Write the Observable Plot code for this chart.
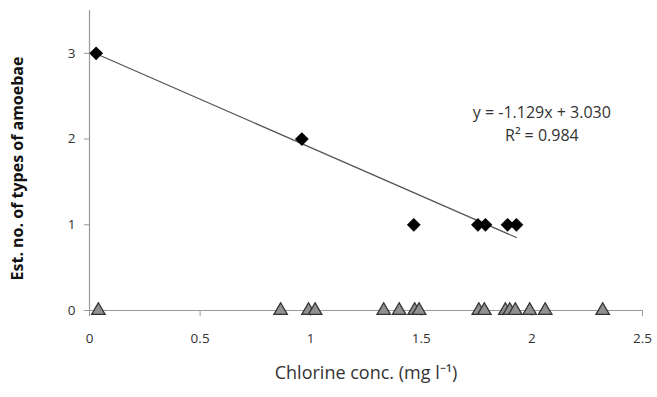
<!DOCTYPE html>
<html>
<head>
<meta charset="utf-8">
<script src="https://cdn.jsdelivr.net/npm/d3@7"></script>
<script src="https://cdn.jsdelivr.net/npm/@observablehq/plot@0.6"></script>
<style>
  html, body { margin: 0; padding: 0; background: #fff; }
  svg { font-family: "Open Sans", sans-serif; }
</style>
</head>
<body>
<div id="chart"></div>
<script>
// Detected amoebae (diamonds)
const presentX = [0.03, 0.96, 1.466, 1.756, 1.79, 1.89, 1.93];
const presentY = [3, 2, 1, 1, 1, 1, 1];
// Samples with no amoebae detected (triangles)
const absentX = [0.04, 0.864, 0.99, 1.02, 1.33, 1.40, 1.47, 1.49, 1.76, 1.785, 1.88, 1.90, 1.925, 1.99, 2.06, 2.32];
const absentY = absentX.map(() => 0);
// Trend line equation
const slope = -1.129;
const intercept = 3.030;
const r2 = 0.984;
const xTicks = [0, 0.5, 1, 1.5, 2, 2.5];
const xTickLabels = ["0", "0.5", "1", "1.5", "2", "2.5"];
const yTicks = [0, 1, 2, 3];

const present = presentX.map((x, i) => ({x, y: presentY[i]}));
const absent = absentX.map((x, i) => ({x, y: absentY[i]}));
const xMin = d3.min(presentX), xMax = d3.max(presentX);
const trend = [xMin, xMax].map(x => ({x, y: slope * x + intercept}));

const chart = Plot.plot({
  width: 657,
  height: 397,
  marginLeft: 89,
  marginRight: 15,
  marginTop: 10,
  marginBottom: 87,
  style: {fontFamily: "Open Sans, sans-serif", fontSize: "13px", color: "#222"},
  x: {domain: [0, 2.5]},
  y: {domain: [0, 3.5]},
  marks: [
    Plot.ruleY([0], {stroke: "#999", strokeWidth: 1.2}),
    Plot.ruleX([0], {y1: 0, y2: 3.5, stroke: "#999", strokeWidth: 1.2}),
    Plot.axisX(xTicks, {
      tickSize: 6, tickPadding: 17, stroke: "#999",
      tickFormat: (d, i) => xTickLabels[i], fontSize: 13.5, fill: "#333",
      label: null
    }),
    Plot.axisY(yTicks, {
      tickSize: 5, tickPadding: 9, stroke: "#999", fontSize: 13.5, fill: "#333",
      tickFormat: "d", label: null
    }),
    Plot.line(trend, {x: "x", y: "y", stroke: "#555", strokeWidth: 1.2}),
    Plot.dot(absent, {x: "x", y: "y", symbol: "triangle", r: 5, fill: "#909090", stroke: "#333", strokeWidth: 1.3}),
    Plot.dot(present, {x: "x", y: "y", symbol: "square", rotate: 45, r: 5.5, fill: "#000"}),
    Plot.text([`y = ${slope.toFixed(3)}x + ${intercept.toFixed(3)}`], {x: 2.045, y: 2.31, text: d => d, fontSize: 16, fill: "#333"}),
    Plot.text([`R² = ${r2.toFixed(3)}`], {x: 2.045, y: 2.04, text: d => d, fontSize: 16, fill: "#333"}),
    Plot.text(["Chlorine conc. (mg l⁻¹)"], {frameAnchor: "bottom", dy: 68, text: d => d, fontSize: 18, fill: "#333"}),
    Plot.text(["Est. no. of types of amoebae"], {frameAnchor: "left", textAnchor: "middle", dx: -72, dy: 8, rotate: -90, text: d => d, fontSize: 16, fontWeight: "bold", fill: "#111"})
  ]
});
document.getElementById("chart").appendChild(chart);
</script>
</body>
</html>
